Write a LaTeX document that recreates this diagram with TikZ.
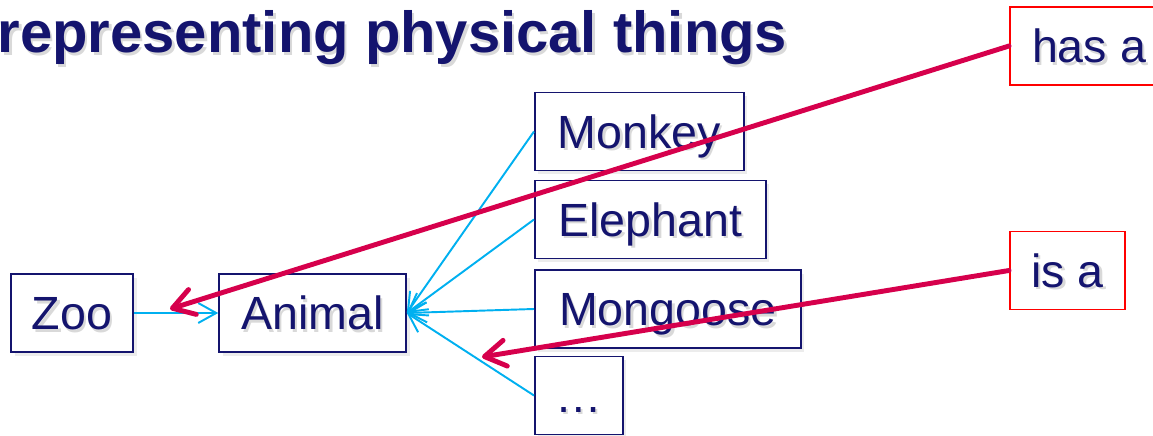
\documentclass[tikz,border=0pt]{standalone}
\usepackage{fontspec}
\setmainfont{Liberation Sans}
\setsansfont{Liberation Sans}
\usetikzlibrary{arrows.meta}
\usetikzlibrary{shadows}
\definecolor{inkblue}{RGB}{20,20,110}
\definecolor{linkblue}{RGB}{0,176,240}
\definecolor{linkred}{RGB}{214,0,76}
% text with a soft grey copy behind it
\newcommand{\shtext}[1]{\makebox[0pt][l]{\hspace{1.4pt}\raisebox{-1.4pt}{\textcolor{black!15}{#1}}}#1}
\tikzset{
    textbox/.style = {rectangle, fill=white, text=inkblue, minimum height=1.55cm, inner ysep=0.1cm, text height=1.02cm, text depth=0.34cm, inner xsep=0.2cm, font=\fontsize{26.5}{30}\selectfont},
    thing/.style = {textbox, draw=inkblue, line width=0.9pt, drop shadow={opacity=0.15, shadow xshift=2pt, shadow yshift=-2pt}},
    relation/.style = {textbox, draw=red, line width=1.1pt},
    edgeb/.style = {-{Straight Barb[length=0.36cm,width=0.4cm]}, line width=1.1pt, linkblue},
    edger/.style = {-{Straight Barb[length=0.42cm,width=0.52cm,round]}, line width=2.8pt, linkred, line cap=round}, % relation pointer
}

\begin{document}
\begin{tikzpicture}
\useasboundingbox (0,0) rectangle (23.06,8.72);
%
\node[anchor=base west, text=inkblue, font=\fontsize{33}{36}\selectfont\bfseries] (title) at (-0.17,7.66) {\shtext{representing physical things}};
%
\node[thing, minimum width=2.44cm] at (1.44,2.46) (zoo) {\shtext{Zoo}};
\node[thing, minimum width=3.74cm] at (6.25,2.46) (animal) {\shtext{Animal}};
\node[thing, minimum width=4.18cm, anchor=west] at (10.68,6.09) (monkey) {\shtext{Monkey}};
\node[thing, minimum width=4.62cm, anchor=west] at (10.68,4.33) (elephant) {\shtext{Elephant}};
\node[thing, minimum width=5.32cm, anchor=west] at (10.68,2.54) (mongoose) {\shtext{Mongoose}};
\node[thing, minimum width=1.76cm, anchor=west] at (10.68,0.81) (more) {\shtext{\ldots}};
%
\node[relation, minimum width=3.16cm] at (21.78,7.80) (hasa) {\shtext{has a}};
\node[relation, minimum width=2.30cm] at (21.35,3.31) (isa) {\shtext{is a}};
%
\draw[edgeb] (zoo) -- (animal);
\draw[edgeb] (monkey.west) -- (animal.east);
\draw[edgeb] (elephant.west) -- (animal.east);
\draw[edgeb] (mongoose.west) -- (animal.east);
\draw[edgeb] (more.west) -- (animal.east);
%
\coordinate (hastip) at (3.40,2.54);
\coordinate (istip) at (9.64,1.58);
\draw[edger] (hasa.west) -- (hastip);
\draw[edger] (isa.west) -- (istip);

\end{tikzpicture}
\end{document}
